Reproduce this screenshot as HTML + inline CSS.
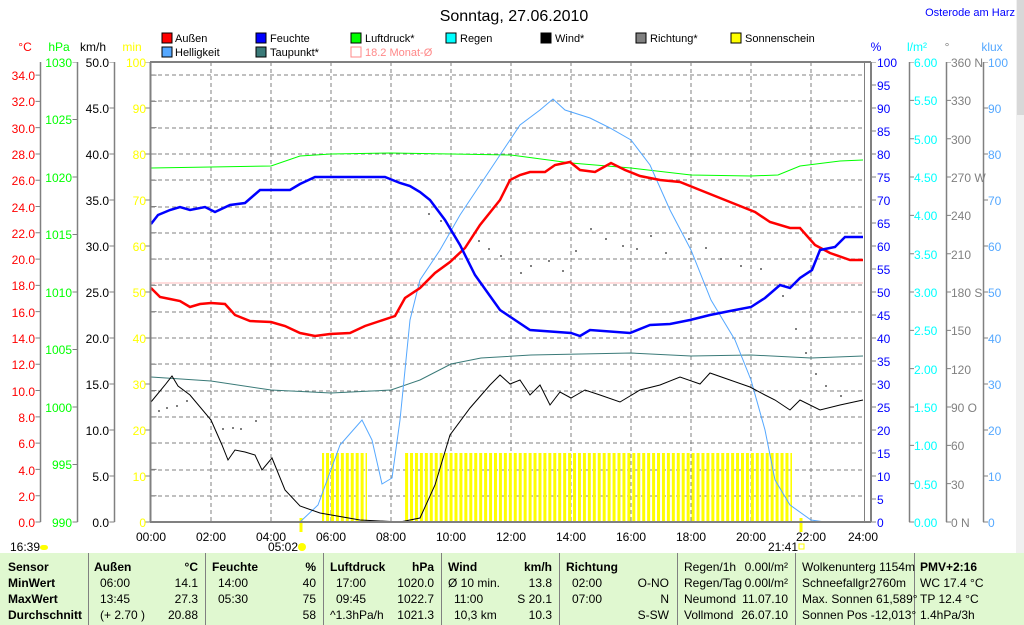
<!DOCTYPE html>
<html><head><meta charset="utf-8"><style>
body{margin:0;width:1024px;height:625px;overflow:hidden;background:#fff;font-family:"Liberation Sans",sans-serif}
svg{position:absolute;left:0;top:0}
svg text{font-family:"Liberation Sans",sans-serif;font-size:12px}
</style></head><body>
<svg width="1024" height="625" viewBox="0 0 1024 625">
<defs>
<pattern id="sun" x="0" y="0" width="4.94" height="100" patternUnits="userSpaceOnUse">
<rect x="0" y="0" width="3" height="100" fill="#ffff00"/></pattern>
</defs>
<rect x="1016" y="0" width="8" height="553" fill="#f0f0f0"/>
<rect x="1017" y="0" width="7" height="115" fill="#d8d8d8"/>
<text x="514" y="21" font-size="16" text-anchor="middle" style="font-size:16px">Sonntag, 27.06.2010</text>
<text x="1015" y="16" fill="#0000ff" text-anchor="end" style="font-size:11px">Osterode am Harz</text>
<g style="font-size:11px">
<rect x="162" y="33" width="10" height="10" fill="#f00" stroke="#000"/><text x="175" y="42" style="font-size:11px">Außen</text>
<rect x="162" y="47" width="10" height="10" fill="#55a8ff" stroke="#000"/><text x="175" y="56" style="font-size:11px">Helligkeit</text>
<rect x="256" y="33" width="10" height="10" fill="#00f" stroke="#000"/><text x="270" y="42" style="font-size:11px">Feuchte</text>
<rect x="256" y="47" width="10" height="10" fill="#3a7a78" stroke="#000"/><text x="270" y="56" style="font-size:11px">Taupunkt*</text>
<rect x="351" y="33" width="10" height="10" fill="#0f0" stroke="#000"/><text x="365" y="42" style="font-size:11px">Luftdruck*</text>
<rect x="351" y="47" width="10" height="10" fill="none" stroke="#f88"/><text x="365" y="56" fill="#f88" style="font-size:11px">18.2 Monat-Ø</text>
<rect x="446" y="33" width="10" height="10" fill="#0ff" stroke="#000"/><text x="460" y="42" style="font-size:11px">Regen</text>
<rect x="541" y="33" width="10" height="10" fill="#000" stroke="#000"/><text x="555" y="42" style="font-size:11px">Wind*</text>
<rect x="636" y="33" width="10" height="10" fill="#808080" stroke="#000"/><text x="650" y="42" style="font-size:11px">Richtung*</text>
<rect x="731" y="33" width="10" height="10" fill="#ff0" stroke="#000"/><text x="745" y="42" style="font-size:11px">Sonnenschein</text>
</g>
<text x="25" y="51" fill="#f00" text-anchor="middle">°C</text>
<text x="59" y="51" fill="#0f0" text-anchor="middle">hPa</text>
<text x="93" y="51" text-anchor="middle">km/h</text>
<text x="132" y="51" fill="#ff0" text-anchor="middle">min</text>
<text x="876" y="51" fill="#00f" text-anchor="middle">%</text>
<text x="917" y="51" fill="#0ff" text-anchor="middle">l/m²</text>
<text x="947" y="51" fill="#808080" text-anchor="middle">°</text>
<text x="992" y="51" fill="#55a8ff" text-anchor="middle">klux</text>
<g stroke="#808080" stroke-dasharray="4,3" stroke-width="1">
<line x1="151" y1="75" x2="863" y2="75"/><line x1="151" y1="101" x2="863" y2="101"/>
<line x1="151" y1="128" x2="863" y2="128"/><line x1="151" y1="154" x2="863" y2="154"/>
<line x1="151" y1="180" x2="863" y2="180"/><line x1="151" y1="207" x2="863" y2="207"/>
<line x1="151" y1="233" x2="863" y2="233"/><line x1="151" y1="259" x2="863" y2="259"/>
<line x1="151" y1="285" x2="863" y2="285"/><line x1="151" y1="312" x2="863" y2="312"/>
<line x1="151" y1="338" x2="863" y2="338"/><line x1="151" y1="364" x2="863" y2="364"/>
<line x1="151" y1="391" x2="863" y2="391"/><line x1="151" y1="417" x2="863" y2="417"/>
<line x1="151" y1="443" x2="863" y2="443"/><line x1="151" y1="470" x2="863" y2="470"/>
<line x1="151" y1="496" x2="863" y2="496"/>
<line x1="211" y1="62" x2="211" y2="522"/><line x1="271" y1="62" x2="271" y2="522"/>
<line x1="331" y1="62" x2="331" y2="522"/><line x1="391" y1="62" x2="391" y2="522"/>
<line x1="451" y1="62" x2="451" y2="522"/><line x1="511" y1="62" x2="511" y2="522"/>
<line x1="571" y1="62" x2="571" y2="522"/><line x1="631" y1="62" x2="631" y2="522"/>
<line x1="691" y1="62" x2="691" y2="522"/><line x1="751" y1="62" x2="751" y2="522"/>
<line x1="811" y1="62" x2="811" y2="522"/>
</g>
<rect x="322" y="453" width="45" height="69" fill="url(#sun)"/>
<rect x="405" y="453" width="387" height="69" fill="url(#sun)"/>
<line x1="301" y1="518" x2="301" y2="532" stroke="#ff0" stroke-width="3"/>
<line x1="801" y1="518" x2="801" y2="532" stroke="#ff0" stroke-width="3"/>
<line x1="151" y1="283" x2="863" y2="283" stroke="#fbb" stroke-width="1"/>
<g fill="#808080">
<rect x="158" y="410" width="2" height="2"/><rect x="166" y="407" width="2" height="2"/><rect x="176" y="405" width="2" height="2"/><rect x="186" y="400" width="2" height="2"/>
<rect x="222" y="428" width="2" height="2"/><rect x="232" y="427" width="2" height="2"/><rect x="240" y="428" width="2" height="2"/><rect x="255" y="420" width="2" height="2"/>
<rect x="428" y="213" width="2" height="2"/><rect x="440" y="220" width="2" height="2"/><rect x="478" y="240" width="2" height="2"/><rect x="488" y="248" width="2" height="2"/>
<rect x="500" y="255" width="2" height="2"/><rect x="520" y="272" width="2" height="2"/><rect x="530" y="265" width="2" height="2"/><rect x="548" y="260" width="2" height="2"/>
<rect x="562" y="270" width="2" height="2"/><rect x="575" y="250" width="2" height="2"/><rect x="590" y="228" width="2" height="2"/><rect x="605" y="238" width="2" height="2"/>
<rect x="622" y="245" width="2" height="2"/><rect x="636" y="248" width="2" height="2"/><rect x="650" y="235" width="2" height="2"/><rect x="665" y="252" width="2" height="2"/>
<rect x="688" y="238" width="2" height="2"/><rect x="705" y="247" width="2" height="2"/><rect x="720" y="258" width="2" height="2"/><rect x="740" y="265" width="2" height="2"/>
<rect x="760" y="268" width="2" height="2"/><rect x="782" y="295" width="2" height="2"/><rect x="795" y="328" width="2" height="2"/><rect x="805" y="352" width="2" height="2"/>
<rect x="815" y="373" width="2" height="2"/><rect x="825" y="385" width="2" height="2"/><rect x="840" y="395" width="2" height="2"/>
</g>
<polyline fill="none" stroke="#0f0" stroke-width="1" points="151,168 211,167 271,166 300,156 331,154 391,153 451,154 511,155 571,163 631,168 691,175 751,176 778,175 800,166 840,161 863,160"/>
<polyline fill="none" stroke="#3a7a78" stroke-width="1" points="151,377 211,381 271,390 331,393 391,390 420,380 451,364 481,358 531,355 631,353 691,356 751,355 811,358 863,356"/>
<polyline fill="none" stroke="#55a8ff" stroke-width="1" points="151,522 300,522 318,505 340,445 362,420 372,440 382,484 392,478 400,420 410,320 420,280 440,250 460,215 480,185 500,155 520,125 540,110 553,99 565,110 590,118 610,128 631,140 650,165 670,210 691,250 711,300 735,340 751,380 765,430 775,480 790,505 811,520 825,522 863,522"/>
<polyline fill="none" stroke="#000" stroke-width="1" points="151,402 165,385 172,376 178,386 190,395 211,420 222,445 228,460 235,450 245,452 255,455 262,470 272,458 285,490 300,506 320,513 360,520 400,522 420,518 435,485 450,435 470,408 490,385 500,375 510,384 520,380 530,395 540,385 550,405 560,392 571,398 585,390 600,395 620,402 640,390 660,385 680,377 700,384 710,373 730,380 750,387 765,395 775,400 790,410 800,400 820,410 840,405 863,400"/>
<polyline fill="none" stroke="#f00" stroke-width="2.5" points="151,288 160,297 170,299 180,301 190,307 200,304 211,303 225,304 235,315 250,321 271,322 285,326 300,333 315,336 330,334 350,333 365,326 380,321 395,316 405,298 420,288 435,273 450,262 465,248 480,225 500,200 510,180 520,175 530,172 545,172 555,165 570,162 580,170 595,172 611,163 625,170 640,176 660,180 680,182 700,190 720,198 740,206 755,212 770,222 790,228 800,228 815,245 830,253 850,260 863,260"/>
<polyline fill="none" stroke="#00f" stroke-width="2.5" points="151,224 158,215 170,210 180,207 190,210 205,207 215,212 230,205 245,203 260,190 290,190 300,184 315,177 340,177 385,177 400,183 410,186 420,192 430,200 445,220 460,245 475,275 490,296 500,310 512,318 530,330 571,333 580,336 590,330 630,333 650,325 670,324 690,320 710,315 730,311 751,307 765,298 780,285 790,288 800,278 812,270 820,250 835,247 845,237 863,237"/>
<line x1="150.5" y1="62" x2="150.5" y2="522" stroke="#808080" stroke-width="2"/>
<line x1="150" y1="62" x2="871" y2="62" stroke="#808080" stroke-width="2"/>
<line x1="150" y1="522" x2="871" y2="522" stroke="#808080" stroke-width="2"/>
<line x1="864.5" y1="62" x2="864.5" y2="522" stroke="#808080" stroke-width="1"/>
<line x1="871" y1="62" x2="871" y2="522" stroke="#808080" stroke-width="2"/>
<g stroke="#808080" stroke-width="1.5">
<line x1="40.5" y1="62" x2="40.5" y2="522"/><line x1="77.5" y1="62" x2="77.5" y2="522"/><line x1="114.5" y1="62" x2="114.5" y2="522"/>
<line x1="909.5" y1="62" x2="909.5" y2="522"/><line x1="946.5" y1="62" x2="946.5" y2="522"/><line x1="983.5" y1="62" x2="983.5" y2="522"/>
</g>
<g stroke="#808080" fill="none">
<line x1="38" y1="522.5" x2="38" y2="62" stroke-width="5" stroke-dasharray="1 25.29"/>
<line x1="75" y1="522.5" x2="75" y2="62" stroke-width="5" stroke-dasharray="1 56.5"/>
<line x1="112" y1="522.5" x2="112" y2="62" stroke-width="5" stroke-dasharray="1 45"/>
<line x1="148" y1="522.5" x2="148" y2="62" stroke-width="5" stroke-dasharray="1 45"/>
<line x1="154" y1="522.5" x2="154" y2="62" stroke-width="5" stroke-dasharray="1 25.29"/>
<line x1="873.5" y1="522.5" x2="873.5" y2="62" stroke-width="5" stroke-dasharray="1 22"/>
<line x1="911.5" y1="522.5" x2="911.5" y2="62" stroke-width="5" stroke-dasharray="1 37.33"/>
<line x1="948.5" y1="522.5" x2="948.5" y2="62" stroke-width="5" stroke-dasharray="1 37.33"/>
<line x1="985.5" y1="522.5" x2="985.5" y2="62" stroke-width="5" stroke-dasharray="1 45"/>
</g>
<g fill="#f00" text-anchor="end">
<text x="35" y="80">34.0</text><text x="35" y="106">32.0</text><text x="35" y="133">30.0</text><text x="35" y="159">28.0</text><text x="35" y="185">26.0</text><text x="35" y="212">24.0</text><text x="35" y="238">22.0</text><text x="35" y="264">20.0</text><text x="35" y="290">18.0</text><text x="35" y="317">16.0</text><text x="35" y="343">14.0</text><text x="35" y="369">12.0</text><text x="35" y="396">10.0</text><text x="35" y="422">8.0</text><text x="35" y="448">6.0</text><text x="35" y="475">4.0</text><text x="35" y="501">2.0</text><text x="35" y="527">0.0</text>
</g>
<g fill="#0f0" text-anchor="end">
<text x="72" y="67">1030</text><text x="72" y="124">1025</text><text x="72" y="182">1020</text><text x="72" y="239">1015</text><text x="72" y="297">1010</text><text x="72" y="354">1005</text><text x="72" y="412">1000</text><text x="72" y="469">995</text><text x="72" y="527">990</text>
</g>
<g fill="#000" text-anchor="end">
<text x="109" y="67">50.0</text><text x="109" y="113">45.0</text><text x="109" y="159">40.0</text><text x="109" y="205">35.0</text><text x="109" y="251">30.0</text><text x="109" y="297">25.0</text><text x="109" y="343">20.0</text><text x="109" y="389">15.0</text><text x="109" y="435">10.0</text><text x="109" y="481">5.0</text><text x="109" y="527">0.0</text>
</g>
<g fill="#ff0" text-anchor="end">
<text x="146" y="67">100</text><text x="146" y="113">90</text><text x="146" y="159">80</text><text x="146" y="205">70</text><text x="146" y="251">60</text><text x="146" y="297">50</text><text x="146" y="343">40</text><text x="146" y="389">30</text><text x="146" y="435">20</text><text x="146" y="481">10</text><text x="146" y="527">0</text>
</g>
<g fill="#00f">
<text x="877" y="67">100</text><text x="877" y="90">95</text><text x="877" y="113">90</text><text x="877" y="136">85</text><text x="877" y="159">80</text><text x="877" y="182">75</text><text x="877" y="205">70</text><text x="877" y="228">65</text><text x="877" y="251">60</text><text x="877" y="274">55</text><text x="877" y="297">50</text><text x="877" y="320">45</text><text x="877" y="343">40</text><text x="877" y="366">35</text><text x="877" y="389">30</text><text x="877" y="412">25</text><text x="877" y="435">20</text><text x="877" y="458">15</text><text x="877" y="481">10</text><text x="877" y="504">5</text><text x="877" y="527">0</text>
</g>
<g fill="#0ff">
<text x="914" y="67">6.00</text><text x="914" y="105">5.50</text><text x="914" y="144">5.00</text><text x="914" y="182">4.50</text><text x="914" y="220">4.00</text><text x="914" y="259">3.50</text><text x="914" y="297">3.00</text><text x="914" y="335">2.50</text><text x="914" y="374">2.00</text><text x="914" y="412">1.50</text><text x="914" y="450">1.00</text><text x="914" y="489">0.50</text><text x="914" y="527">0.00</text>
</g>
<g fill="#808080">
<text x="951" y="67">360 N</text><text x="951" y="105">330</text><text x="951" y="144">300</text><text x="951" y="182">270 W</text><text x="951" y="220">240</text><text x="951" y="259">210</text><text x="951" y="297">180 S</text><text x="951" y="335">150</text><text x="951" y="374">120</text><text x="951" y="412">90  O</text><text x="951" y="450">60</text><text x="951" y="489">30</text><text x="951" y="527">0    N</text>
</g>
<g fill="#55a8ff">
<text x="988" y="67">100</text><text x="988" y="113">90</text><text x="988" y="159">80</text><text x="988" y="205">70</text><text x="988" y="251">60</text><text x="988" y="297">50</text><text x="988" y="343">40</text><text x="988" y="389">30</text><text x="988" y="435">20</text><text x="988" y="481">10</text><text x="988" y="527">0</text>
</g>
<g text-anchor="middle">
<text x="151" y="541">00:00</text><text x="211" y="541">02:00</text><text x="271" y="541">04:00</text><text x="331" y="541">06:00</text><text x="391" y="541">08:00</text><text x="451" y="541">10:00</text><text x="511" y="541">12:00</text><text x="571" y="541">14:00</text><text x="631" y="541">16:00</text><text x="691" y="541">18:00</text><text x="751" y="541">20:00</text><text x="811" y="541">22:00</text><text x="863" y="541">24:00</text>
</g>
<text x="10" y="551">16:39</text><rect x="40" y="545" width="8" height="5" rx="3" fill="#ff0"/>
<text x="268" y="551">05:02</text><circle cx="302" cy="547" r="4" fill="#ff0"/>
<text x="768" y="551">21:41</text><rect x="799" y="544" width="5" height="5" fill="none" stroke="#ff0"/>
<rect x="0" y="553" width="1024" height="72" fill="#e0f8d0"/>
<g stroke="#808080" stroke-width="1">
<line x1="88.5" y1="553" x2="88.5" y2="625"/><line x1="205.5" y1="553" x2="205.5" y2="625"/><line x1="323.5" y1="553" x2="323.5" y2="625"/><line x1="441.5" y1="553" x2="441.5" y2="625"/><line x1="559.5" y1="553" x2="559.5" y2="625"/><line x1="677.5" y1="553" x2="677.5" y2="625"/><line x1="795.5" y1="553" x2="795.5" y2="625"/><line x1="914.5" y1="553" x2="914.5" y2="625"/>
</g>
<g style="font-size:11px">
<g font-weight="bold"><text x="8" y="571" font-weight="bold">Sensor</text><text x="8" y="587" font-weight="bold">MinWert</text><text x="8" y="603" font-weight="bold">MaxWert</text><text x="8" y="619" font-weight="bold">Durchschnitt</text>
<text x="94" y="571" font-weight="bold">Außen</text><text x="198" y="571" text-anchor="end" font-weight="bold">°C</text>
<text x="212" y="571" font-weight="bold">Feuchte</text><text x="316" y="571" text-anchor="end" font-weight="bold">%</text>
<text x="330" y="571" font-weight="bold">Luftdruck</text><text x="434" y="571" text-anchor="end" font-weight="bold">hPa</text>
<text x="448" y="571" font-weight="bold">Wind</text><text x="552" y="571" text-anchor="end" font-weight="bold">km/h</text>
<text x="566" y="571" font-weight="bold">Richtung</text>
<text x="920" y="571" font-weight="bold">PMV+2:16</text></g>
<text x="100" y="587">06:00</text><text x="198" y="587" text-anchor="end">14.1</text>
<text x="100" y="603">13:45</text><text x="198" y="603" text-anchor="end">27.3</text>
<text x="100" y="619">(+ 2.70 )</text><text x="198" y="619" text-anchor="end">20.88</text>
<text x="218" y="587">14:00</text><text x="316" y="587" text-anchor="end">40</text>
<text x="218" y="603">05:30</text><text x="316" y="603" text-anchor="end">75</text>
<text x="316" y="619" text-anchor="end">58</text>
<text x="336" y="587">17:00</text><text x="434" y="587" text-anchor="end">1020.0</text>
<text x="336" y="603">09:45</text><text x="434" y="603" text-anchor="end">1022.7</text>
<text x="330" y="619">^1.3hPa/h</text><text x="434" y="619" text-anchor="end">1021.3</text>
<text x="448" y="587">Ø 10 min.</text><text x="552" y="587" text-anchor="end">13.8</text>
<text x="454" y="603">11:00</text><text x="552" y="603" text-anchor="end">S 20.1</text>
<text x="454" y="619">10,3 km</text><text x="552" y="619" text-anchor="end">10.3</text>
<text x="572" y="587">02:00</text><text x="669" y="587" text-anchor="end">O-NO</text>
<text x="572" y="603">07:00</text><text x="669" y="603" text-anchor="end">N</text>
<text x="669" y="619" text-anchor="end">S-SW</text>
<text x="684" y="571">Regen/1h</text><text x="788" y="571" text-anchor="end">0.00l/m²</text>
<text x="684" y="587">Regen/Tag</text><text x="788" y="587" text-anchor="end">0.00l/m²</text>
<text x="684" y="603">Neumond</text><text x="788" y="603" text-anchor="end">11.07.10</text>
<text x="684" y="619">Vollmond</text><text x="788" y="619" text-anchor="end">26.07.10</text>
<text x="802" y="571">Wolkenunterg 1154m</text>
<text x="802" y="587">Schneefallgr</text><text x="906" y="587" text-anchor="end">2760m</text>
<text x="802" y="603">Max. Sonnen 61,589°</text>
<text x="802" y="619">Sonnen Pos  -12,013°</text>
<text x="920" y="587">WC 17.4 °C</text><text x="920" y="603">TP 12.4 °C</text><text x="920" y="619">1.4hPa/3h</text>
</g>
</svg>
</body></html>
